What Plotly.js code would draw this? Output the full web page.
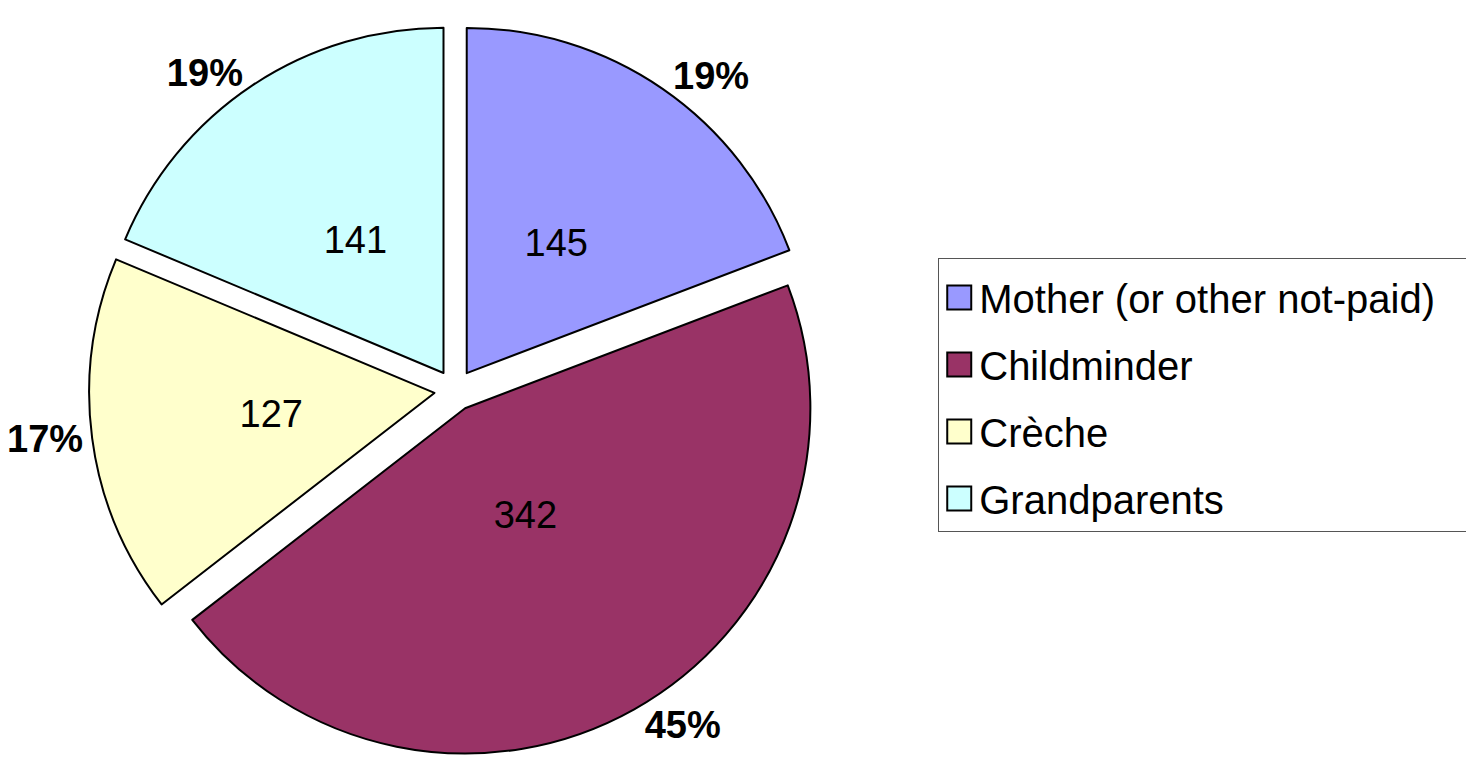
<!DOCTYPE html>
<html>
<head>
<meta charset="utf-8">
<script src="https://cdn.plot.ly/plotly-3.0.1.min.js"></script>
<style>html,body{margin:0;padding:0;background:#fff;overflow:hidden;}#chart{width:1466px;height:782px;}</style>
</head>
<body>
<div id="chart"></div>
<script>
const categories = ["Mother (or other not-paid)", "Childminder", "Crèche", "Grandparents"];
const counts = [145, 342, 127, 141];
const colors = ["#9999FF", "#993366", "#FFFFCC", "#CCFFFF"];

const FONT = '"Liberation Sans", Arial, sans-serif';
const pulls = [0.06, 0.06, 0.06, 0.06];
const clear = ['rgba(0,0,0,0)', 'rgba(0,0,0,0)', 'rgba(0,0,0,0)', 'rgba(0,0,0,0)'];

const common = {
  type: 'pie',
  labels: categories,
  values: counts,
  sort: false,
  direction: 'clockwise',
  rotation: 0,
  hoverinfo: 'skip'
};

// slices + legend
const sliceTrace = Object.assign({}, common, {
  pull: pulls,
  domain: {x: [0.0607, 0.560], y: [0.033, 0.969]},
  marker: {colors: colors, line: {color: '#000000', width: 2}},
  textinfo: 'none',
  showlegend: true
});

// value labels, placed nearer the centre
const valueTrace = Object.assign({}, common, {
  pull: pulls,
  domain: {x: [0.1255, 0.4952], y: [0.1547, 0.8478]},
  marker: {colors: clear, line: {width: 0}},
  textinfo: 'value',
  textposition: 'inside',
  insidetextorientation: 'horizontal',
  textfont: {family: FONT, size: 38, color: '#000000'},
  showlegend: false
});

// percentage labels outside
const percentTrace = Object.assign({}, common, {
  domain: {x: [0.0617, 0.5597], y: [0.0333, 0.9667]},
  marker: {colors: clear, line: {width: 0}},
  texttemplate: '%{percent:.0%}',
  textposition: 'outside',
  outsidetextfont: {family: FONT, size: 38, color: '#000000', weight: 'bold'},
  showlegend: false
});

const layout = {
  width: 1466,
  height: 782,
  margin: {l: 0, r: 0, t: 0, b: 0},
  paper_bgcolor: '#ffffff',
  font: {family: FONT, color: '#000000'},
  showlegend: true,
  legend: {
    x: 0.64, y: 0.67, xanchor: 'left', yanchor: 'top',
    bgcolor: '#ffffff', bordercolor: '#555555', borderwidth: 1,
    font: {family: FONT, size: 40, color: '#000000'},
    traceorder: 'normal'
  }
};

Plotly.newPlot('chart', [sliceTrace, valueTrace, percentTrace], layout, {displayModeBar: false, staticPlot: true}).then(function (gd) {
  // enlarge legend swatches and spread legend rows like the reference
  const root = gd.querySelector('.legend');
  if (!root) return;
  root.querySelectorAll('.legendpoints path').forEach(function (p) {
    const t = p.getAttribute('transform') || '';
    p.setAttribute('transform', t + ' scale(2)');
    p.style.strokeWidth = '1px';
  });
  const items = Array.from(root.querySelectorAll('.traces'));
  if (items.length < 2) return;
  const parse = function (el) {
    const m = /translate\(\s*([-\d.]+)[ ,]+([-\d.]+)\s*\)/.exec(el.getAttribute('transform') || '');
    return m ? [parseFloat(m[1]), parseFloat(m[2])] : [0, 0];
  };
  const first = parse(items[0]);
  const oldGap = parse(items[1])[1] - first[1];
  const gap = 67;
  const y0 = first[1] + 6;
  items.forEach(function (el, i) {
    const xy = parse(el);
    el.setAttribute('transform', 'translate(' + xy[0] + ',' + (y0 + i * gap) + ')');
  });
  const extra = (gap - oldGap) * (items.length - 1) + 6;
  const bg = root.querySelector('rect.bg');
  if (bg) {
    const h = parseFloat(bg.getAttribute('height'));
    bg.setAttribute('height', h + extra);
    const w = parseFloat(bg.getAttribute('width'));
    bg.setAttribute('width', w + 40);
  }
  document.querySelectorAll('clipPath[id^="legend"] rect').forEach(function (r) {
    const h = parseFloat(r.getAttribute('height'));
    r.setAttribute('height', h + extra);
  });
});
</script>
</body>
</html>
